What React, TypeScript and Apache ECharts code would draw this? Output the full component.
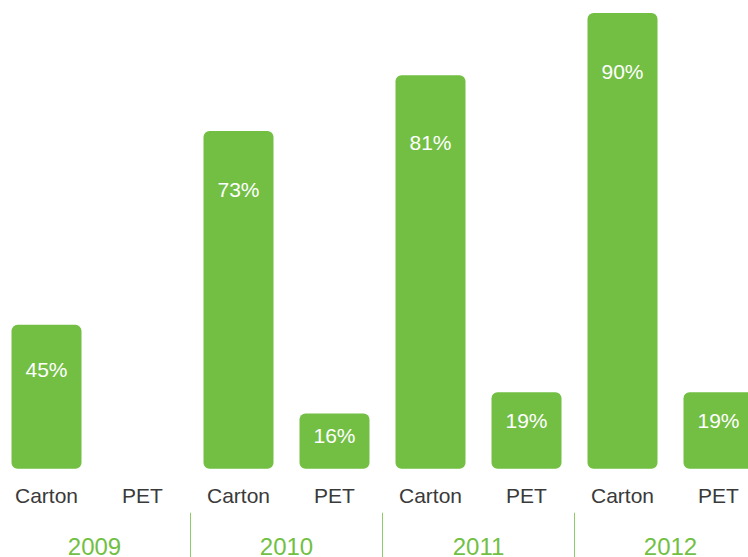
import React, { useEffect, useRef } from "react";
import * as echarts from "echarts";

const categories = ["Carton", "PET", "Carton", "PET", "Carton", "PET", "Carton", "PET"];
const years = ["2009", "2010", "2011", "2012"];
// bar heights as drawn (scale where the 90% bar = 90)
const barHeights: (number | null)[] = [28.4, null, 66.7, 10.9, 77.7, 15.1, 90, 15.1];
const barLabels = ["45%", "", "73%", "16%", "81%", "19%", "90%", "19%"];

const labelDistances = [34.5, 0, 48.5, 11.5, 56.5, 17.5, 48.5, 17.5];

const GREEN = "#72BF44";
const FONT = "'Liberation Sans', Helvetica, Arial, sans-serif";

export default function App() {
  const ref = useRef<HTMLDivElement>(null);
  useEffect(() => {
    document.body.style.margin = "0";
    const chart = echarts.init(ref.current!, null, { renderer: "svg" });
    chart.setOption({
      animation: false,
      grid: {
        left: -1.5,
        width: 768,
        top: 0,
        height: 468.7,
        containLabel: false,
        outerBoundsMode: "none",
      },
      xAxis: [
        {
          type: "category",
          data: categories,
          axisLine: { show: false },
          axisTick: { show: false },
          axisLabel: {
            color: "#3a3a3a",
            fontFamily: FONT,
            fontSize: 21,
            lineHeight: 21,
            margin: 16,
            interval: 0,
          },
        },
        {
          type: "category",
          data: years,
          position: "bottom",
          offset: 44,
          axisLine: { show: false },
          axisTick: {
            show: true,
            alignWithLabel: false,
            interval: 0,
            length: 50,
            lineStyle: { color: "#8DCB68", width: 1 },
          },
          axisLabel: {
            color: GREEN,
            fontFamily: FONT,
            fontSize: 24,
            lineHeight: 22,
            margin: 23,
            interval: 0,
          },
        },
      ],
      yAxis: {
        type: "value",
        min: 0,
        max: 92.55,
        show: false,
        splitLine: { show: false },
      },
      series: [
        {
          type: "bar",
          xAxisIndex: 0,
          barWidth: 70,
          itemStyle: { color: GREEN, borderRadius: 6 },
          data: barHeights.map((v, i) => ({
            value: v === null ? "-" : v,
            label: { distance: labelDistances[i] },
          })),
          label: {
            show: true,
            position: "insideTop",
            color: "#ffffff",
            fontFamily: FONT,
            fontSize: 21,
            lineHeight: 21,
            formatter: (p: any) => barLabels[p.dataIndex],
          },
        },
      ],
    });
    return () => chart.dispose();
  }, []);
  return <div ref={ref} style={{ width: 748, height: 557 }} />;
}
